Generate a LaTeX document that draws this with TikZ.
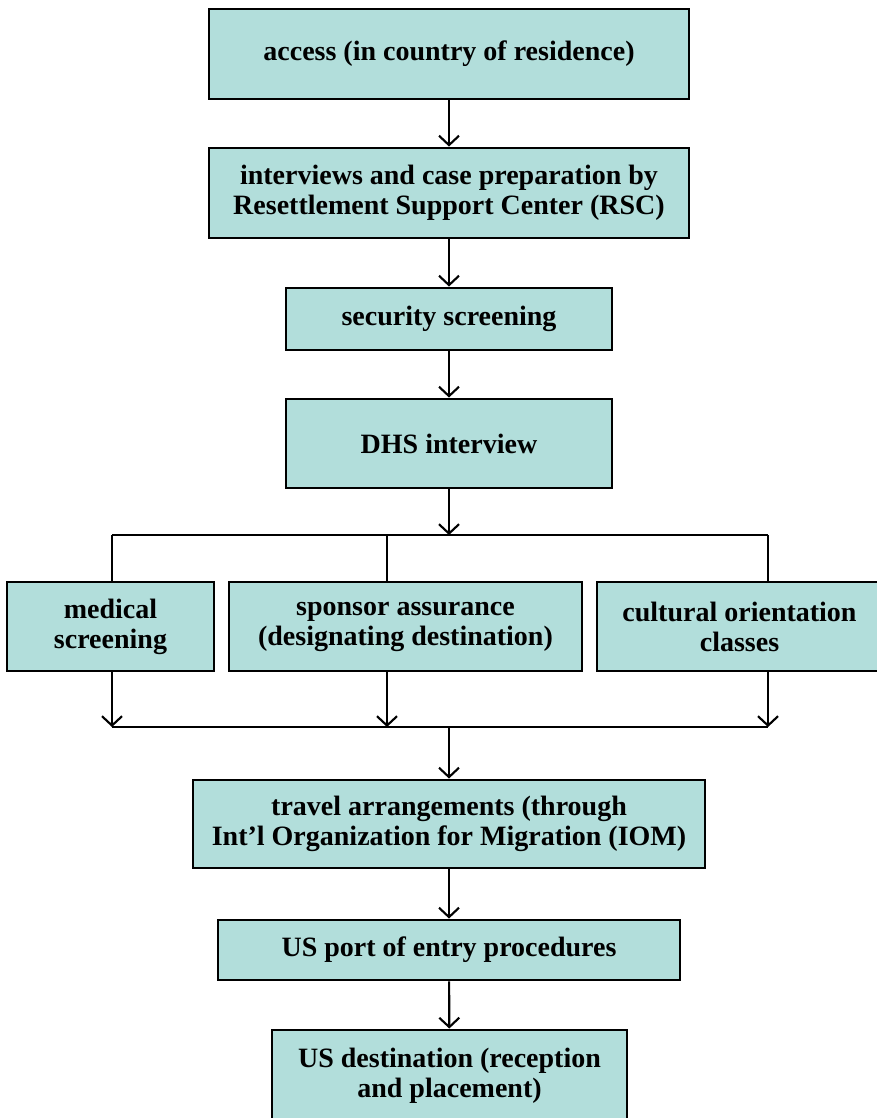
\documentclass[tikz,border=0pt]{standalone}
\usepackage{fontspec}
\setmainfont{Liberation Serif}
\usetikzlibrary{arrows.meta}

\definecolor{boxteal}{RGB}{178,222,219}

\tikzset{
  stepbox/.style={draw=black, fill=boxteal, line width=2.2pt, align=center,
    inner sep=0pt, font=\fontsize{21}{22.5}\selectfont\bfseries},
  flow/.style={line width=1.6pt, -{Straight Barb[length=7pt,width=15pt]}},
  bar/.style={line width=1.6pt}
}

\begin{document}
\begin{tikzpicture}[x=0.75pt,y=0.75pt,yscale=-1,xscale=1]
		\useasboundingbox (0,0) rectangle (877,1118);
		% main chain
		\node[stepbox, minimum width=360pt, minimum height=67.5pt] (access) at (449,54) {access (in country of residence)};
		\node[stepbox, minimum width=360pt, minimum height=67.5pt] (rsc) at (449,193) {interviews and case preparation by\\Resettlement Support Center (RSC)};
		\node[stepbox, minimum width=244.5pt, minimum height=46.5pt] (security) at (449,319) {security screening};
		\node[stepbox, minimum width=244.5pt, minimum height=66.75pt] (dhs) at (449,443.5) {DHS interview};
		% parallel steps
		\node[stepbox, minimum width=155.25pt, minimum height=66.75pt] (medical) at (110.5,626.5) {medical\\screening};
		\node[stepbox, minimum width=264.75pt, minimum height=66.75pt] (sponsor) at (405.5,626.5) {sponsor assurance\\(designating destination)};
		\node[stepbox, minimum width=213.75pt, minimum height=66.75pt] (cultural) at (739.5,626.5) {cultural orientation\\classes};
		% after merge
		\node[stepbox, minimum width=384pt, minimum height=66pt] (travel) at (449,824) {travel arrangements (through\\Int’l Organization for Migration (IOM)};
		\node[stepbox, minimum width=346.5pt, minimum height=45pt] (port) at (449,950) {US port of entry procedures};
		\node[stepbox, minimum width=266.25pt, minimum height=69pt] (dest) at (449.5,1076) {US destination (reception\\and placement)};
		% split and merge bars
		\coordinate (split) at (449,535);
		\coordinate (topL) at (112,535);
		\coordinate (topM) at (387,535);
		\coordinate (topR) at (768,535);
		\coordinate (merge) at (449,727);
		\coordinate (botL) at (112,727);
		\coordinate (botM) at (387,727);
		\coordinate (botR) at (768,727);
		% connectors
		\draw[flow] (access) -- (rsc);
		\draw[flow] (rsc) -- (security);
		\draw[flow] (security) -- (dhs);
		\draw[flow] (dhs) -- (split);
		\draw[bar] (topL) -- (topR);
		\draw[bar] (topL) -- (topL |- medical.north);
		\draw[bar] (topM) -- (topM |- sponsor.north);
		\draw[bar] (topR) -- (topR |- cultural.north);
		\draw[flow] (botL |- medical.south) -- (botL);
		\draw[flow] (botM |- sponsor.south) -- (botM);
		\draw[flow] (botR |- cultural.south) -- (botR);
		\draw[bar] (botL) -- (botR);
		\draw[flow] (merge) -- (travel);
		\draw[flow] (travel) -- (port);
		\draw[flow] (port) -- (dest);
\end{tikzpicture}
\end{document}
